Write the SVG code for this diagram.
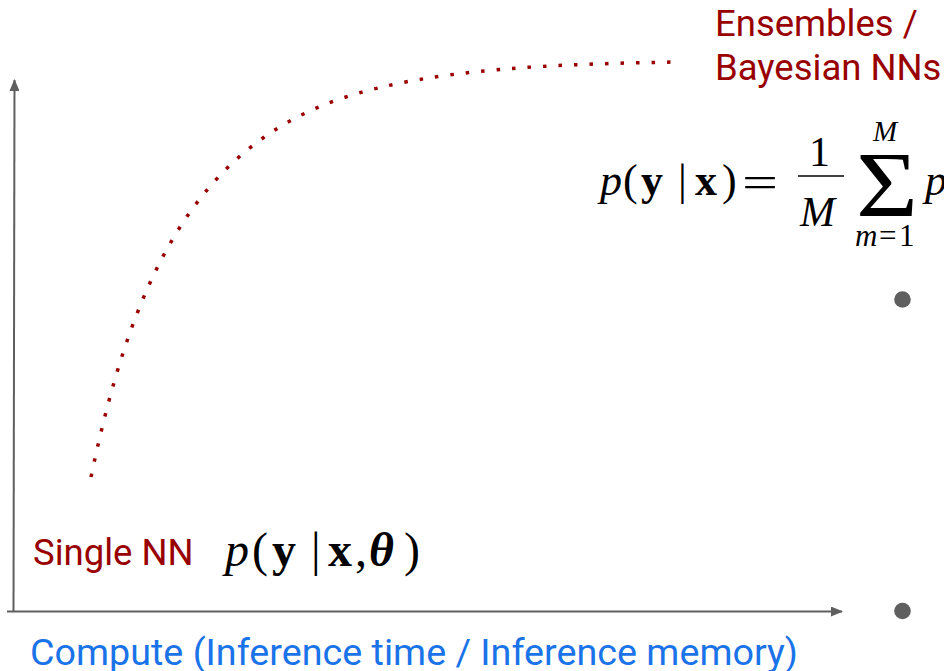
<svg xmlns="http://www.w3.org/2000/svg" width="944" height="671" viewBox="0 0 944 671">
<defs>
<style>
.lbl{font-family:Roboto,"Liberation Sans",sans-serif;}
.red{fill:#990000;font-size:36.5px;}
.blue{fill:#1a73e8;font-size:37.5px;}
.m{font-family:"Liberation Serif","DejaVu Serif",serif;fill:#000;}
.it{font-style:italic;}
.bf{font-weight:bold;}
.axis{stroke:#5f5f5f;stroke-width:2;fill:none;}
</style>
<marker id="arr" viewBox="0 0 12 10" refX="11" refY="5" markerWidth="12" markerHeight="10" markerUnits="userSpaceOnUse" orient="auto">
<path d="M0,0 L12,5 L0,10 Z" fill="#5f5f5f"/>
</marker>
</defs>
<rect width="944" height="671" fill="#fff"/>
<g id="connectors">
<line class="axis" x1="13.5" y1="612" x2="14.5" y2="80" marker-end="url(#arr)"/>
<line class="axis" x1="7" y1="611.5" x2="842" y2="611.5" marker-end="url(#arr)"/>
<path id="curve" d="M91,477 C130,290 190,150 340,99 C430,68 560,64 676,62" fill="none" stroke="#990000" stroke-width="3.5" stroke-dasharray="3.5 12"/>
</g>
<g id="single-nn">
<text class="lbl red" x="33" y="565">Single NN</text>
<text class="m" font-size="48" y="566"><tspan class="it" x="225">p</tspan><tspan x="252">(</tspan><tspan class="bf" x="272">y</tspan><tspan x="311">|</tspan><tspan class="bf" x="328">x</tspan><tspan x="355">,</tspan><tspan class="bf it" x="369">θ</tspan><tspan x="404">)</tspan></text>
</g>
<g id="ensembles">
<text class="lbl red" x="715" y="36">Ensembles /</text>
<text class="lbl red" x="715" y="80">Bayesian NNs</text>
<text class="m" font-size="44" y="195"><tspan class="it" x="600">p</tspan><tspan x="623">(</tspan><tspan class="bf" x="641">y</tspan><tspan x="678">|</tspan><tspan class="bf" x="695">x</tspan><tspan x="722">)</tspan></text>
<text class="m" font-size="44" x="742" y="197" textLength="36" lengthAdjust="spacingAndGlyphs">=</text>
<text class="m" font-size="42" x="809" y="166">1</text>
<line x1="798" y1="176" x2="844" y2="176" stroke="#000" stroke-width="1.6"/>
<text class="m it" font-size="42" x="800" y="226">M</text>
<text class="m" font-size="94" x="856" y="216" textLength="62" lengthAdjust="spacingAndGlyphs">Σ</text>
<text class="m it" font-size="29" x="873" y="141">M</text>
<text class="m" font-size="31" y="246"><tspan class="it" x="855">m</tspan><tspan x="879">=</tspan><tspan x="899">1</tspan></text>
<text class="m it" font-size="44" x="925" y="195">p</text>
</g>
<g id="x-axis-label">
<text class="lbl blue" x="30" y="665" textLength="768" lengthAdjust="spacingAndGlyphs">Compute (Inference time / Inference memory)</text>
</g>
<g id="bullets" fill="#5f5f5f">
<circle cx="902.5" cy="299.5" r="8.3"/>
<circle cx="902.5" cy="611" r="8.3"/>
</g>
</svg>
